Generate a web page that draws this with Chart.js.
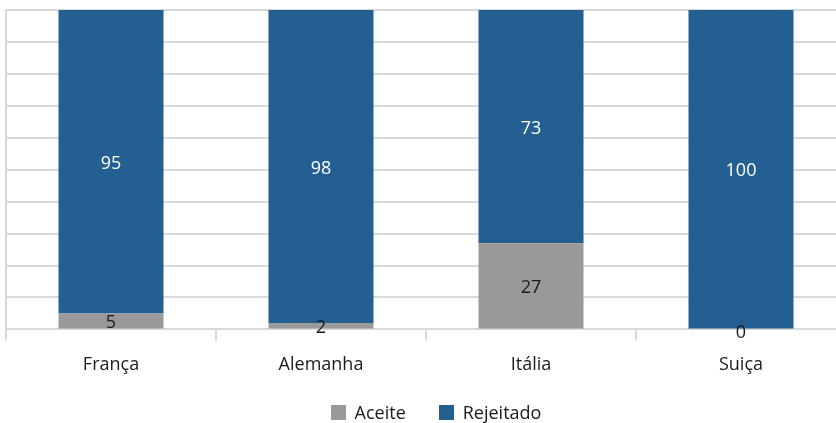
<!DOCTYPE html>
<html>
<head>
<meta charset="utf-8">
<script src="https://cdn.jsdelivr.net/npm/chart.js@4.4.0/dist/chart.umd.min.js"></script>
<style>
  html, body { margin: 0; padding: 0; background: #fff; overflow: hidden; }
  #wrap { position: relative; width: 846px; height: 423px; }
  #legend {
    position: absolute; left: 0; top: 401px; width: 872px;
    display: flex; justify-content: center; gap: 33px;
    font: 18px "Open Sans", "Noto Sans", sans-serif; color: #1a1a1a;
  }
  .item { display: flex; align-items: center; line-height: 22px; }
  .swatch { width: 15px; height: 15px; margin-right: 9px; }
</style>
</head>
<body>
<div id="wrap">
  <canvas id="decisionChart"></canvas>
  <div id="legend"></div>
</div>
<script>
const countries = ['França', 'Alemanha', 'Itália', 'Suiça'];
const aceite = [5, 2, 27, 0];
const rejeitado = [95, 98, 73, 100];

const grey = '#999999';
const blue = '#245F91';
const fontFamily = '"Open Sans", "Noto Sans", sans-serif';

// writes each segment's value in the middle of its bar piece
const segmentLabels = {
    id: 'segmentLabels',
    afterDatasetsDraw(chart) {
        const { ctx } = chart;
        ctx.save();
        ctx.font = `18px ${fontFamily}`;
        ctx.textAlign = 'center';
        ctx.textBaseline = 'middle';
        chart.data.datasets.forEach((ds, di) => {
            const meta = chart.getDatasetMeta(di);
            meta.data.forEach((bar, i) => {
                const value = ds.data[i];
                const y = (bar.y + bar.base) / 2;
                ctx.fillStyle = di === 1 ? '#ffffff' : '#1a1a1a';
                ctx.fillText(String(value), bar.x, value === 0 ? y + 3 : y + 2);
            });
        });
        ctx.restore();
    }
};

const chart = new Chart(document.getElementById('decisionChart'), {
    type: 'bar',
    data: {
        labels: countries,
        datasets: [
            { label: 'Aceite', data: aceite, backgroundColor: grey },
            { label: 'Rejeitado', data: rejeitado, backgroundColor: blue }
        ]
    },
    options: {
        responsive: true,
        maintainAspectRatio: false,
        animation: false,
        layout: { padding: { left: 6, top: 10, right: 0, bottom: 33 } },
        datasets: { bar: { categoryPercentage: 1, barPercentage: 0.5 } },
        scales: {
            x: {
                stacked: true,
                grid: { drawOnChartArea: false, drawTicks: true, tickLength: 11, color: '#d9d9d9', lineWidth: 2 },
                border: { display: true, color: '#d9d9d9', width: 2 },
                ticks: { color: '#1a1a1a', font: { family: fontFamily, size: 18 }, padding: 14 }
            },
            y: {
                stacked: true,
                min: 0,
                max: 100,
                ticks: { display: false, stepSize: 10 },
                grid: { color: '#d9d9d9', lineWidth: 2, drawTicks: false },
                border: { display: true, color: '#d9d9d9', width: 2 }
            }
        },
        plugins: {
            legend: { display: false },
            tooltip: { enabled: false }
        }
    },
    plugins: [segmentLabels]
});

const legendEl = document.getElementById('legend');
chart.data.datasets.forEach(ds => {
    const item = document.createElement('div');
    item.className = 'item';
    const swatch = document.createElement('span');
    swatch.className = 'swatch';
    swatch.style.background = ds.backgroundColor;
    item.appendChild(swatch);
    item.appendChild(document.createTextNode(ds.label));
    legendEl.appendChild(item);
});
</script>
</body>
</html>
